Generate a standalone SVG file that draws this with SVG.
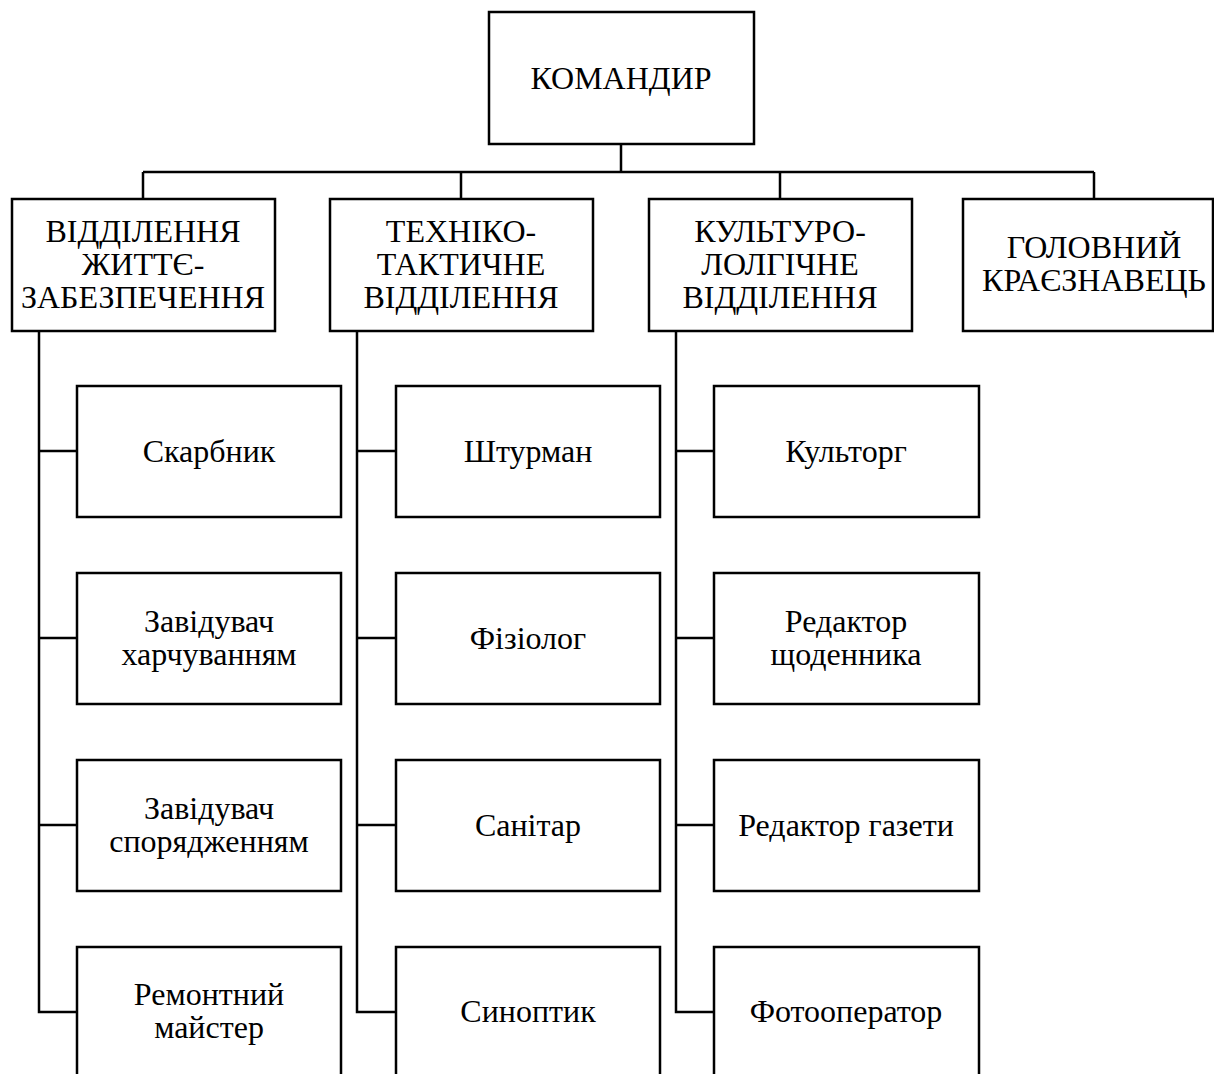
<svg xmlns="http://www.w3.org/2000/svg" width="1214" height="1074" viewBox="0 0 1214 1074">
<style>
.box{fill:#fff;stroke:#000;stroke-width:2.5}
.ln{fill:none;stroke:#000;stroke-width:2.5}
text{font-family:"Liberation Serif","Times New Roman",serif;font-size:32px;fill:#000;text-anchor:middle}
</style>
<rect width="1214" height="1074" fill="#fff"/>
<g id="connectors">
<path class="ln" d="M621,144V172M143,172H1094M143,172V199M461,172V199M780,172V199M1094,172V199"/>
<path class="ln" d="M39,331V1012H77M39,451H77M39,638H77M39,825H77"/>
<path class="ln" d="M357,331V1012H396M357,451H396M357,638H396M357,825H396"/>
<path class="ln" d="M676,331V1012H714M676,451H714M676,638H714M676,825H714"/>
</g>
<g id="commander"><rect class="box" x="489" y="12" width="265" height="132"/><text x="621" y="89">КОМАНДИР</text></g>
<g id="dept1"><rect class="box" x="12" y="199" width="263" height="132"/><text x="143" y="242">ВІДДІЛЕННЯ</text><text x="143" y="275">ЖИТТЄ-</text><text x="143" y="308">ЗАБЕЗПЕЧЕННЯ</text></g>
<g id="dept2"><rect class="box" x="330" y="199" width="263" height="132"/><text x="461" y="242">ТЕХНІКО-</text><text x="461" y="275">ТАКТИЧНЕ</text><text x="461" y="308">ВІДДІЛЕННЯ</text></g>
<g id="dept3"><rect class="box" x="649" y="199" width="263" height="132"/><text x="780" y="242">КУЛЬТУРО-</text><text x="780" y="275">ЛОЛГІЧНЕ</text><text x="780" y="308">ВІДДІЛЕННЯ</text></g>
<g id="dept4"><rect class="box" x="963" y="199" width="250" height="132"/><text x="1094" y="258">ГОЛОВНИЙ</text><text x="1094" y="291">КРАЄЗНАВЕЦЬ</text></g>

<g id="c1r1"><rect class="box" x="77" y="386" width="264" height="131"/><text x="209" y="462">Скарбник</text></g>
<g id="c1r2"><rect class="box" x="77" y="573" width="264" height="131"/><text x="209" y="632">Завідувач</text><text x="209" y="665">харчуванням</text></g>
<g id="c1r3"><rect class="box" x="77" y="760" width="264" height="131"/><text x="209" y="819">Завідувач</text><text x="209" y="852">спорядженням</text></g>
<g id="c1r4"><rect class="box" x="77" y="947" width="264" height="131"/><text x="209" y="1005">Ремонтний</text><text x="209" y="1038">майстер</text></g>

<g id="c2r1"><rect class="box" x="396" y="386" width="264" height="131"/><text x="528" y="462">Штурман</text></g>
<g id="c2r2"><rect class="box" x="396" y="573" width="264" height="131"/><text x="528" y="649">Фізіолог</text></g>
<g id="c2r3"><rect class="box" x="396" y="760" width="264" height="131"/><text x="528" y="836">Санітар</text></g>
<g id="c2r4"><rect class="box" x="396" y="947" width="264" height="131"/><text x="528" y="1022">Синоптик</text></g>

<g id="c3r1"><rect class="box" x="714" y="386" width="265" height="131"/><text x="846" y="462">Культорг</text></g>
<g id="c3r2"><rect class="box" x="714" y="573" width="265" height="131"/><text x="846" y="632">Редактор</text><text x="846" y="665">щоденника</text></g>
<g id="c3r3"><rect class="box" x="714" y="760" width="265" height="131"/><text x="846" y="836">Редактор газети</text></g>
<g id="c3r4"><rect class="box" x="714" y="947" width="265" height="131"/><text x="846" y="1022">Фотооператор</text></g>
</svg>
